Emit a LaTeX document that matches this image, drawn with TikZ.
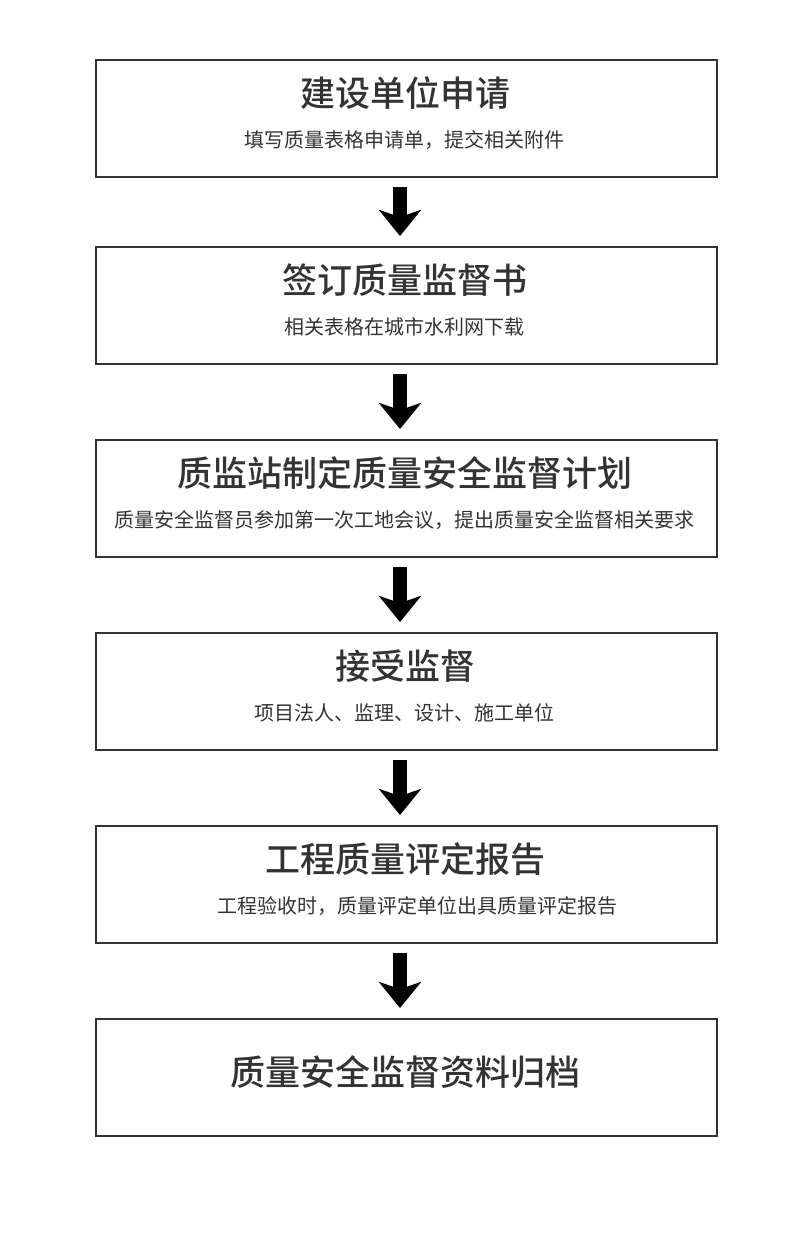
\documentclass[tikz,border=0pt]{standalone}
\usepackage{fontspec}
\setmainfont{Noto Sans CJK SC}
\newfontfamily\cjkmed{Noto Sans CJK SC Medium}
\usetikzlibrary{arrows.meta}
\definecolor{ink}{HTML}{333333}
\begin{document}
\begin{tikzpicture}[x=1pt, y=-1pt,
    stage/.style={rectangle, draw=ink, line width=2pt, minimum width=621pt, minimum height=117pt, inner sep=0pt},
    heading/.style={font=\cjkmed\fontsize{35}{35}\selectfont, text=ink, inner sep=0pt, xshift=-1.5pt},
    note/.style={font=\fontsize{20}{20}\selectfont, text=ink, inner sep=0pt, xshift=-2pt},
    arrow/.style={-{Stealth[length=26pt, width=42pt, inset=7pt]}, line width=14pt, black, shorten <=9pt, shorten >=10pt},
]
\useasboundingbox (0,0) rectangle (800,1256);
\coordinate (axis) at (400,0);
% S1 - application
\node[stage] (S1) at (406.5,118.5) {};
\node[heading] (S1t) at ([yshift=-34pt]S1.north) {建设单位申请};
\node[note] (S1n) at ([yshift=-81pt]S1.north) {填写质量表格申请单，提交相关附件};
% S2 - supervision contract
\node[stage] (S2) at (406.5,305.5) {};
\node[heading] (S2t) at ([yshift=-34pt]S2.north) {签订质量监督书};
\node[note] (S2n) at ([yshift=-81pt]S2.north) {相关表格在城市水利网下载};
% S3 - supervision plan
\node[stage] (S3) at (406.5,498.5) {};
\node[heading] (S3t) at ([yshift=-34pt]S3.north) {质监站制定质量安全监督计划};
\node[note] (S3n) at ([yshift=-81pt]S3.north) {质量安全监督员参加第一次工地会议，提出质量安全监督相关要求};
% S4 - accept supervision
\node[stage] (S4) at (406.5,691.5) {};
\node[heading] (S4t) at ([yshift=-34pt]S4.north) {接受监督};
\node[note] (S4n) at ([yshift=-81pt]S4.north) {项目法人、监理、设计、施工单位};
% S5 - evaluation report
\node[stage] (S5) at (406.5,884.5) {};
\node[heading] (S5t) at ([yshift=-34pt]S5.north) {工程质量评定报告};
\node[note, xshift=13pt] (S5n) at ([yshift=-81pt]S5.north) {工程验收时，质量评定单位出具质量评定报告};
% S6 - archiving
\node[stage] (S6) at (406.5,1077.5) {};
\node[heading] (S6t) at ([yshift=5pt]S6.center) {质量安全监督资料归档};

% Arrows between stages
\draw[arrow] (S1.south -| axis) -- (S2.north -| axis);
\draw[arrow] (S2.south -| axis) -- (S3.north -| axis);
\draw[arrow] (S3.south -| axis) -- (S4.north -| axis);
\draw[arrow] (S4.south -| axis) -- (S5.north -| axis);
\draw[arrow] (S5.south -| axis) -- (S6.north -| axis);
\end{tikzpicture}
\end{document}
